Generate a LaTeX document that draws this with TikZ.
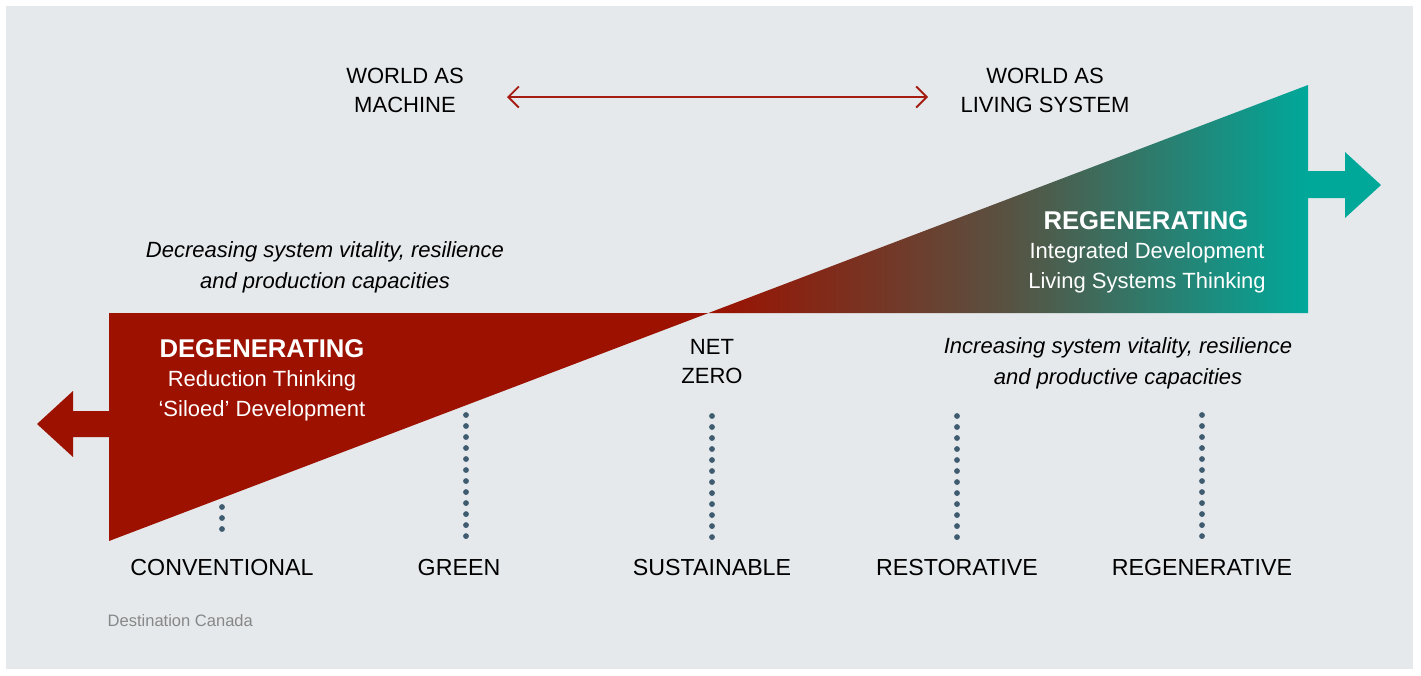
\documentclass[tikz,border=0pt]{standalone}
\usepackage{fontspec}
\setmainfont{Liberation Sans}
\usetikzlibrary{arrows.meta, positioning}
\definecolor{rosso}{RGB}{156,17,0}
\definecolor{verdeacqua}{RGB}{0,168,154}
\definecolor{sfondo}{RGB}{229,233,236}
\definecolor{freccia}{RGB}{165,28,18}
\definecolor{puntino}{RGB}{62,91,111}
\definecolor{grigio}{RGB}{135,135,135}

\begin{document}
\begin{tikzpicture}[x=0.01cm, y=-0.01cm,
			etichetta/.style={align=center, inner sep=0pt, font=\fontsize{6.26}{8.25}\selectfont},
			stadio/.style={inner sep=0pt, font=\fontsize{6.6}{8}\selectfont},
			corsivo/.style={align=center, inner sep=0pt, font=\fontsize{6.26}{8.8}\selectfont\itshape},
			titolo/.style={inner sep=0pt, text=white, font=\fontsize{7.3}{8}\selectfont\bfseries},
			bianco/.style={align=center, inner sep=0pt, text=white, font=\fontsize{6.26}{8.5}\selectfont},
			puntini/.style={puntino, line width=1.65pt, line cap=round, dash pattern=on 0pt off 3.13pt},
			doppia/.style={<->, >={Straight Barb[length=3pt, width=6pt]}, freccia, line width=0.55pt}]
			
			% Sfondo
			\useasboundingbox (0,0) rectangle (1421,675);
			\fill[sfondo] (6,6) rectangle (1413,669);
			
			% --- Linee tratteggiate sotto le fasi ---
			\foreach \x/\yi in {222/507, 466/415, 712/416, 957/416, 1202/415} {
				\coordinate (a\x) at (\x,\yi);
				\coordinate (b\x) at (\x,537.5);
				\draw[puntini] (a\x) -- (b\x);
			}
			
			% --- Triangolo rosso con freccia a sinistra ---
			\fill[rosso] (109,313) -- (708.5,313) -- (109,541) -- (109,437) -- (73,437)
				-- (73,457) -- (37,424) -- (73,391) -- (73,411) -- (109,411) -- cycle;
			
			% --- Triangolo sfumato e freccia a destra ---
			\shade[left color=rosso, right color=verdeacqua, middle color={rgb,255:red,88;green,82;blue,66}]
				(708.5,313) -- (1308,85) -- (1308,313) -- cycle;
			\fill[verdeacqua] (1307,171) -- (1345,171) -- (1345,152) -- (1381,185)
				-- (1345,218) -- (1345,198) -- (1307,198) -- cycle;
			
			% Visione del mondo
			\node[etichetta] (macchina) at (405,90.5) {WORLD AS\\MACHINE};
			\node[etichetta] (vivente) at (1045,90.5) {WORLD AS\\LIVING SYSTEM};
			\coordinate (sx) at (507,97);
			\coordinate (dx) at (928,97);
			\draw[doppia] (sx) -- (dx);
			
			% Testi nei triangoli
			\node[titolo] (degen) at (262,349) {DEGENERATING};
			\node[bianco] (degensub) at (262,396) {Reduction Thinking\\‘Siloed’ Development};
			\node[titolo] (regen) at (1146,221) {REGENERATING};
			\node[bianco] (regensub) at (1147,268) {Integrated Development\\Living Systems Thinking};
			
			% Testi in corsivo
			\node[corsivo] (decr) at (325,267) {Decreasing system vitality, resilience\\and production capacities};
			\node[corsivo] (incr) at (1118,363) {Increasing system vitality, resilience\\and productive capacities};
			
			\node[etichetta] (netzero) at (712,361.5) {NET\\ZERO};
			
			% --- Fasi ---
			\foreach \x/\testo in {222/CONVENTIONAL, 459/GREEN, 712/SUSTAINABLE, 957/RESTORATIVE, 1202/REGENERATIVE}
				\node[stadio] (s\x) at (\x,567) {\testo};
			
			\node[inner sep=0pt, anchor=west, text=grigio, font=\fontsize{4.7}{6}\selectfont] (fonte) at (107,621) {Destination Canada};
		\end{tikzpicture}
\end{document}
